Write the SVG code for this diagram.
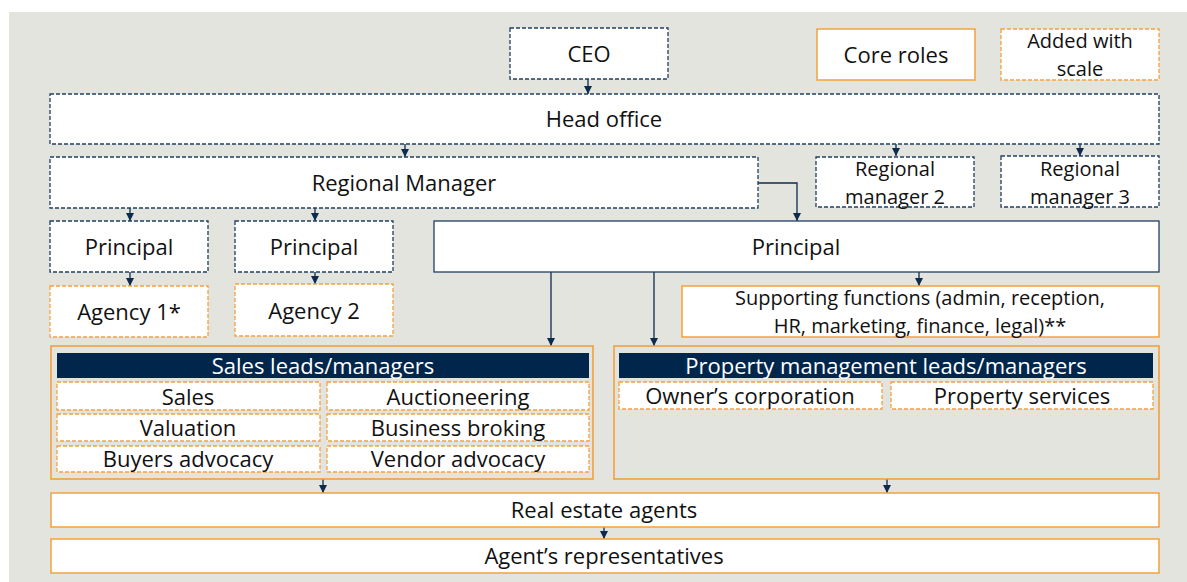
<svg xmlns="http://www.w3.org/2000/svg" width="1187" height="582" viewBox="0 0 1187 582">
  <defs>
    <marker id="arrow" viewBox="0 0 10 10" refX="10" refY="5" markerWidth="8" markerHeight="8" markerUnits="userSpaceOnUse" orient="auto">
      <path d="M0,0 L10,5 L0,10 z" fill="#0d2b4e"/>
    </marker>
    <style>
      .navy-dash { fill: #ffffff; stroke: #1f3f63; stroke-width: 1.3; stroke-dasharray: 4 2; }
      .navy-solid { fill: #ffffff; stroke: #1f3f63; stroke-width: 1.3; }
      .orange-dash { fill: #ffffff; stroke: #f5a13c; stroke-width: 1.3; stroke-dasharray: 4 2; }
      .orange-solid { fill: #ffffff; stroke: #f5a13c; stroke-width: 1.5; }
      .container { fill: none; stroke: #f39a32; stroke-width: 1.5; }
      .header { fill: #00264c; }
      .label { font-family: "Open Sans", "Noto Sans", "DejaVu Sans", sans-serif; font-size: 22px; fill: #111111; text-anchor: middle; dominant-baseline: central; }
      .two-line { font-size: 20px; }
      .label-white { fill: #ffffff; }
      .conn { fill: none; stroke: #0d2b4e; stroke-width: 1.3; marker-end: url(#arrow); }
    </style>
  </defs>

  <!-- page background -->
  <rect x="0" y="0" width="1187" height="582" fill="#ffffff"/>
  <rect x="9" y="12" width="1178" height="570" fill="#e4e4de"/>

  <!-- connectors -->
  <g id="connectors">
    <line class="conn" x1="588" y1="79" x2="588" y2="94"/>
    <line class="conn" x1="405" y1="144" x2="405" y2="157"/>
    <line class="conn" x1="896" y1="144" x2="896" y2="156"/>
    <line class="conn" x1="1080" y1="144" x2="1080" y2="156"/>
    <line class="conn" x1="130" y1="208" x2="130" y2="221"/>
    <line class="conn" x1="315" y1="208" x2="315" y2="221"/>
    <path class="conn" d="M758,183 H797 V221"/>
    <line class="conn" x1="130" y1="272" x2="130" y2="286"/>
    <line class="conn" x1="315" y1="272" x2="315" y2="284"/>
    <line class="conn" x1="551" y1="272" x2="551" y2="346"/>
    <line class="conn" x1="654" y1="272" x2="654" y2="346"/>
    <line class="conn" x1="919" y1="272" x2="919" y2="286"/>
    <line class="conn" x1="323" y1="479" x2="323" y2="493"/>
    <line class="conn" x1="887" y1="479" x2="887" y2="493"/>
    <line class="conn" x1="604" y1="527" x2="604" y2="539"/>
  </g>

  <!-- top row and legend -->
  <g id="ceo">
    <rect class="navy-dash" x="510" y="28" width="158" height="51"/>
    <text class="label" x="589" y="53">CEO</text>
  </g>
  <g id="legend-core">
    <rect class="orange-solid" x="817" y="29" width="158" height="51"/>
    <text class="label" x="896" y="54">Core roles</text>
  </g>
  <g id="legend-scale">
    <rect class="orange-dash" x="1001" y="29" width="158" height="51"/>
    <text class="label two-line" x="1080" y="40.5">Added with<tspan x="1080" dy="27.5">scale</tspan></text>
  </g>

  <g id="head-office">
    <rect class="navy-dash" x="50" y="94" width="1109" height="50"/>
    <text class="label" x="604" y="118">Head office</text>
  </g>

  <g id="regional-manager">
    <rect class="navy-dash" x="50" y="157" width="708" height="51"/>
    <text class="label" x="404" y="182">Regional Manager</text>
  </g>
  <g id="regional-manager-2">
    <rect class="navy-dash" x="816" y="157" width="158" height="50"/>
    <text class="label two-line" x="895" y="168.5">Regional<tspan x="895" dy="27.5">manager 2</tspan></text>
  </g>
  <g id="regional-manager-3">
    <rect class="navy-dash" x="1001" y="156" width="158" height="51"/>
    <text class="label two-line" x="1080" y="168.5">Regional<tspan x="1080" dy="27.5">manager 3</tspan></text>
  </g>

  <g id="principal-1">
    <rect class="navy-dash" x="50" y="221" width="158" height="51"/>
    <text class="label" x="129" y="246">Principal</text>
  </g>
  <g id="principal-2">
    <rect class="navy-dash" x="235" y="221" width="158" height="51"/>
    <text class="label" x="314" y="246">Principal</text>
  </g>
  <g id="principal-main">
    <rect class="navy-solid" x="434" y="221" width="725" height="51"/>
    <text class="label" x="796" y="246">Principal</text>
  </g>

  <g id="agency-1">
    <rect class="orange-dash" x="50" y="286" width="158" height="51"/>
    <text class="label" x="129" y="311">Agency 1*</text>
  </g>
  <g id="agency-2">
    <rect class="orange-dash" x="235" y="284" width="158" height="52"/>
    <text class="label" x="314" y="310">Agency 2</text>
  </g>
  <g id="supporting-functions">
    <rect class="orange-solid" x="682" y="286" width="477" height="51"/>
    <text class="label two-line" x="920" y="297.5">Supporting functions (admin, reception,<tspan x="920" dy="27.5">HR,  marketing, finance, legal)**</tspan></text>
  </g>

  <!-- sales team -->
  <g id="sales">
    <rect class="container" x="51" y="346" width="542" height="133"/>
    <rect class="header" x="57" y="353" width="532" height="25"/>
    <text class="label label-white" x="323" y="365">Sales leads/managers</text>
    <rect class="orange-dash" x="57" y="382" width="263" height="28"/>
    <text class="label" x="188" y="396">Sales</text>
    <rect class="orange-dash" x="327" y="382" width="262" height="28"/>
    <text class="label" x="458" y="396">Auctioneering</text>
    <rect class="orange-dash" x="57" y="414" width="263" height="27"/>
    <text class="label" x="188" y="427">Valuation</text>
    <rect class="orange-dash" x="327" y="414" width="262" height="27"/>
    <text class="label" x="458" y="427">Business broking</text>
    <rect class="orange-dash" x="57" y="446" width="263" height="26"/>
    <text class="label" x="188" y="458">Buyers advocacy</text>
    <rect class="orange-dash" x="327" y="446" width="262" height="26"/>
    <text class="label" x="458" y="458">Vendor advocacy</text>
  </g>

  <!-- property management team -->
  <g id="property-management">
    <rect class="container" x="614" y="346" width="545" height="133"/>
    <rect class="header" x="619" y="353" width="534" height="25"/>
    <text class="label label-white" x="886" y="365">Property management leads/managers</text>
    <rect class="orange-dash" x="619" y="382" width="263" height="27"/>
    <text class="label" x="750" y="395">Owner’s corporation</text>
    <rect class="orange-dash" x="891" y="382" width="262" height="27"/>
    <text class="label" x="1022" y="395">Property services</text>
  </g>

  <g id="real-estate-agents">
    <rect class="orange-solid" x="51" y="493" width="1108" height="34"/>
    <text class="label" x="604" y="509">Real estate agents</text>
  </g>
  <g id="agents-representatives">
    <rect class="orange-solid" x="51" y="539" width="1108" height="34"/>
    <text class="label" x="604" y="555">Agent’s representatives</text>
  </g>
</svg>
